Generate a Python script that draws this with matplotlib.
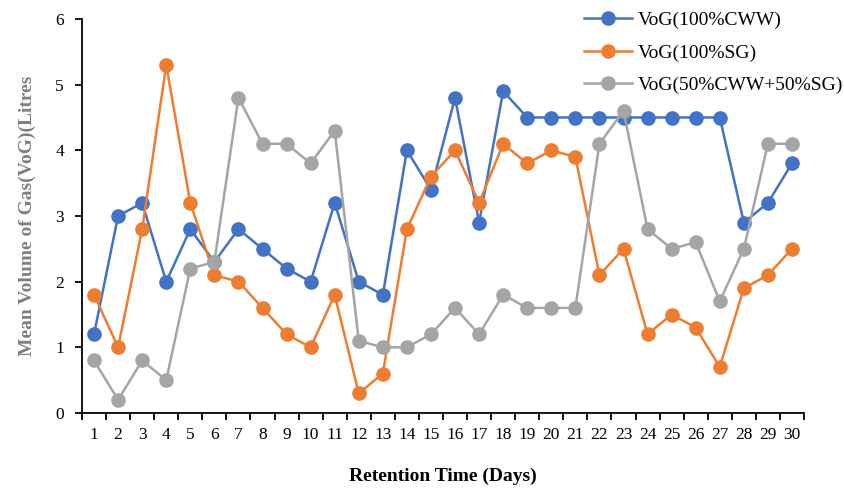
import numpy as np
import matplotlib
matplotlib.use('Agg')
import matplotlib.pyplot as plt

# Dados
days = list(range(1, 31))
vog_cww = [1.2, 3.0, 3.2, 2.0, 2.8, 2.3, 2.8, 2.5, 2.2, 2.0, 3.2, 2.0, 1.8, 4.0, 3.4,
           4.8, 2.9, 4.9, 4.5, 4.5, 4.5, 4.5, 4.5, 4.5, 4.5, 4.5, 4.5, 2.9, 3.2, 3.8]
vog_sg = [1.8, 1.0, 2.8, 5.3, 3.2, 2.1, 2.0, 1.6, 1.2, 1.0, 1.8, 0.3, 0.6, 2.8, 3.6,
          4.0, 3.2, 4.1, 3.8, 4.0, 3.9, 2.1, 2.5, 1.2, 1.5, 1.3, 0.7, 1.9, 2.1, 2.5]
vog_mix = [0.8, 0.2, 0.8, 0.5, 2.2, 2.3, 4.8, 4.1, 4.1, 3.8, 4.3, 1.1, 1.0, 1.0, 1.2,
           1.6, 1.2, 1.8, 1.6, 1.6, 1.6, 4.1, 4.6, 2.8, 2.5, 2.6, 1.7, 2.5, 4.1, 4.1]
labels = ['VoG(100%CWW)', 'VoG(100%SG)', 'VoG(50%CWW+50%SG)']

plt.rcParams['font.family'] = ['Liberation Serif', 'DejaVu Serif']

fig = plt.figure(figsize=(8.44, 4.91), dpi=100)
ax = fig.add_axes([82/844, 1 - 413/491, (804 - 82)/844, (413 - 19)/491])

cores = ['#4472C4', '#ED7D31', '#A5A5A5']
for serie, cor, nome in zip([vog_cww, vog_sg, vog_mix], cores, labels):
    ax.plot(days, serie, color=cor, marker='o', markersize=9.5, linewidth=1.8, label=nome)

ax.set_xlim(0.5, 30.5)
ax.set_ylim(0, 6)
ax.set_yticks(range(0, 7))
ax.set_xticks(days)
ax.set_xticklabels([str(d) for d in days])
ax.set_xticks(np.arange(0.5, 31, 1), minor=True)
ax.tick_params(axis='x', which='major', length=0, labelsize=12.5, pad=10)
ax.tick_params(axis='x', which='minor', length=5, width=1.3)
ax.tick_params(axis='y', length=5, width=1.3, labelsize=12.5, pad=8)

for s in ['top', 'right']:
    ax.spines[s].set_visible(False)
for s in ['left', 'bottom']:
    ax.spines[s].set_linewidth(1.3)

ax.set_ylabel('Mean Volume of Gas(VoG)(Litres', fontsize=14, fontweight='bold',
              color='#7f7f7f', labelpad=14)
ax.set_xlabel('Retention Time (Days)', fontsize=14, fontweight='bold', labelpad=18)

ax.legend(loc='upper left', bbox_to_anchor=(572/844, 1.0), bbox_transform=fig.transFigure,
          frameon=False, fontsize=14, handlelength=2.5, handletextpad=0.3,
          labelspacing=0.75, borderaxespad=0.2)

plt.savefig('out.png', dpi=100)
